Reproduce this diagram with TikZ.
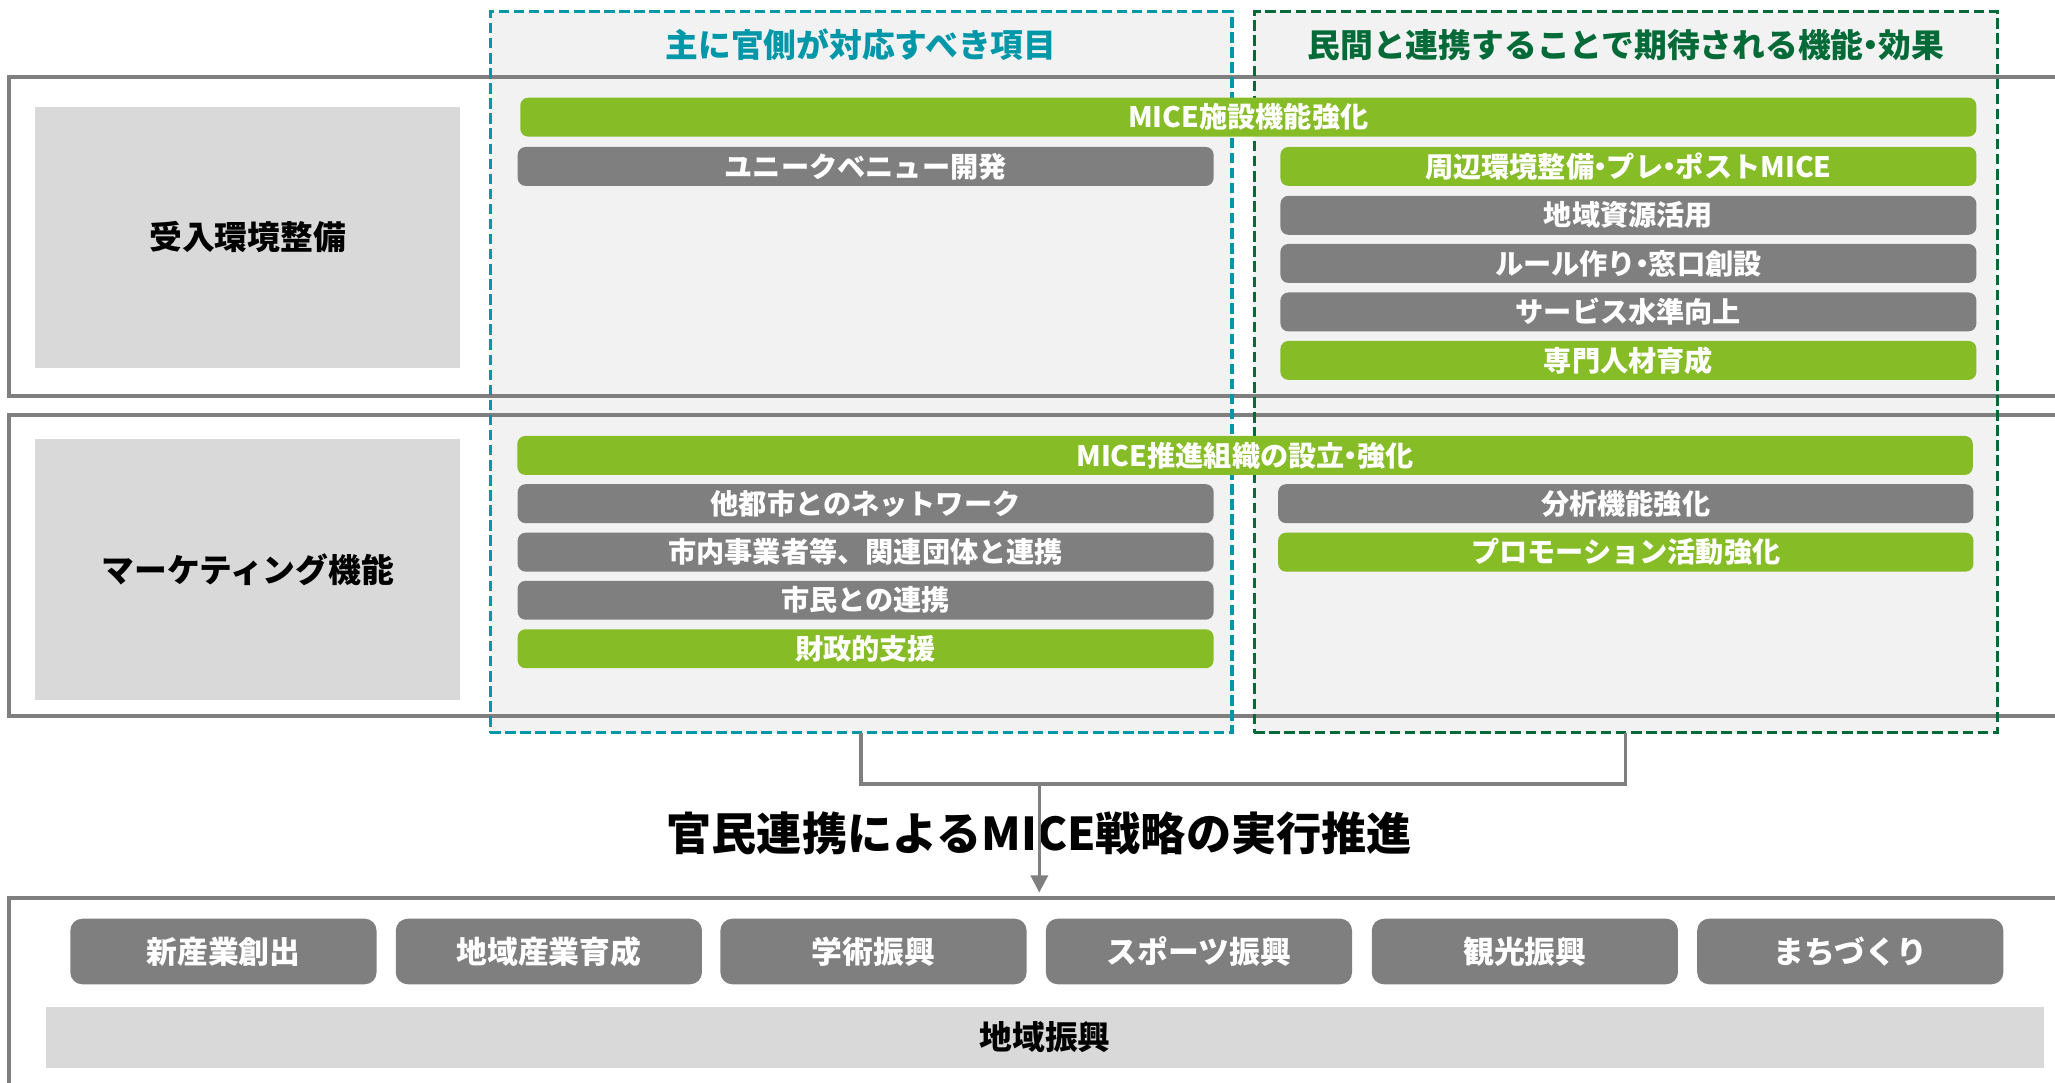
\documentclass[tikz,border=0pt]{standalone}
\usepackage{fontspec}
\setmainfont{Noto Sans CJK JP}
\usetikzlibrary{arrows.meta}
\definecolor{mgreen}{RGB}{134,188,37}
\definecolor{mgray}{RGB}{127,127,127}
\definecolor{mcyan}{RGB}{0,151,169}
\definecolor{mdkgreen}{RGB}{4,106,56}
\definecolor{panelfill}{RGB}{242,242,242}
\definecolor{boxfill}{RGB}{217,217,217}
\newcommand{\fsz}[1]{\fontsize{#1pt}{#1pt}\selectfont}
\newcommand{\nk}{\makebox[0.45em][c]{・}}
\tikzset{
  panel/.style={fill=panelfill, draw=none, inner sep=0pt},
  paneledge/.style={draw, line width=2.4pt, dash pattern=on 8pt off 3.5pt, inner sep=0pt, fill=none},
  rowbox/.style={draw=mgray, line width=3pt},
  labelbox/.style={fill=boxfill, inner sep=0pt, minimum width=324pt, minimum height=199pt, font=\bfseries\fsz{25}, text=black},
  barbase/.style={rounded corners=6pt, inner sep=0pt, minimum height=29.7pt, text=white, font=\bfseries\fsz{21.5}},
  gbar/.style={barbase, fill=mgreen},
  ybar/.style={barbase, fill=mgray},
  colw/.style={minimum width=531pt},
  hdr/.style={font=\bfseries\fsz{25}, inner sep=0pt},
  btn/.style={fill=mgray, rounded corners=9pt, inner sep=0pt, minimum width=233.6pt, minimum height=50pt, text=white, font=\bfseries\fsz{23.5}},
  conn/.style={draw=mgray, line width=2.5pt},
}
\begin{document}
\begin{tikzpicture}[x=1pt, y=-1pt]
\useasboundingbox (0,0) rectangle (1568,826);
% panels
\node[panel, minimum width=566pt, minimum height=550pt] (cpanel) at (657,284) {};
\node[panel, minimum width=567pt, minimum height=550pt] (gpanel) at (1240.5,284) {};
% row boxes
\draw[rowbox] (7,59) rectangle (1590,302);
\draw[rowbox] (7,317) rectangle (1590,546);
% dashed edges
\node[paneledge, draw=mcyan, minimum width=566pt, minimum height=550pt] at (cpanel.center) {};
\node[paneledge, draw=mdkgreen, minimum width=567pt, minimum height=550pt] at (gpanel.center) {};
% headers
\node[hdr, text=mcyan] (hc) at (657,34) {主に官側が対応すべき項目};
\node[hdr, text=mdkgreen] (hg) at (1240.5,34) {民間と連携することで期待される機能\nk 効果};
% left labels
\node[labelbox] (l1) at (189,181) {受入環境整備};
\node[labelbox] (l2) at (189,434.5) {マーケティング機能};
% section 1 bars
\node[gbar, minimum width=1111pt] (b1) at (952.5,89.4) {MICE施設機能強化};
\node[ybar, colw] (b2) at (660.5,127) {ユニークベニュー開発};
\node[gbar, colw] (r1) at (1242.5,127) {周辺環境整備\nk プレ\nk ポストMICE};
\node[ybar, colw] (r2) at (1242.5,164.3) {地域資源活用};
\node[ybar, colw] (r3) at (1242.5,201) {ルール作り\nk 窓口創設};
\node[ybar, colw] (r4) at (1242.5,238) {サービス水準向上};
\node[gbar, colw] (r5) at (1242.5,275) {専門人材育成};
% section 2 bars
\node[gbar, minimum width=1110.5pt] (m1) at (950,347.5) {MICE推進組織の設立\nk 強化};
\node[ybar, colw] (m2) at (660.5,384.3) {他都市とのネットワーク};
\node[ybar, colw] (m3) at (660.5,421.3) {市内事業者等、関連団体と連携};
\node[ybar, colw] (m4) at (660.5,458) {市民との連携};
\node[gbar, colw] (m5) at (660.5,495) {財政的支援};
\node[ybar, minimum width=530.5pt] (n1) at (1240.5,384.3) {分析機能強化};
\node[gbar, minimum width=530.5pt] (n2) at (1240.5,421.3) {プロモーション活動強化};
% bottom box
\draw[rowbox] (7,685) rectangle (1590,835);
\node[btn] (e1) at (170.5,726) {新産業創出};
\node[btn] (e2) at (418.8,726) {地域産業育成};
\node[btn] (e3) at (666.5,726) {学術振興};
\node[btn] (e4) at (914.8,726) {スポーツ振興};
\node[btn] (e5) at (1163.5,726) {観光振興};
\node[btn] (e6) at (1411.8,726) {まちづくり};
\node[fill=boxfill, inner sep=0pt, minimum width=1524.3pt, minimum height=47pt, font=\bfseries\fsz{25}] (base) at (797.5,791.5) {地域振興};
% title
\node[font=\bfseries\fsz{34.5}, inner sep=0pt] (title) at (793,636) {官民連携によるMICE戦略の実行推進};
% connectors
\coordinate (join) at (793,598);
\coordinate (tip) at (793,681);
\draw[conn] (cpanel.south) -- ++(0,39) -| (gpanel.south);
\draw[conn, -{Triangle[length=13pt,width=13pt]}] (join) -- (tip);
\end{tikzpicture}
\end{document}
